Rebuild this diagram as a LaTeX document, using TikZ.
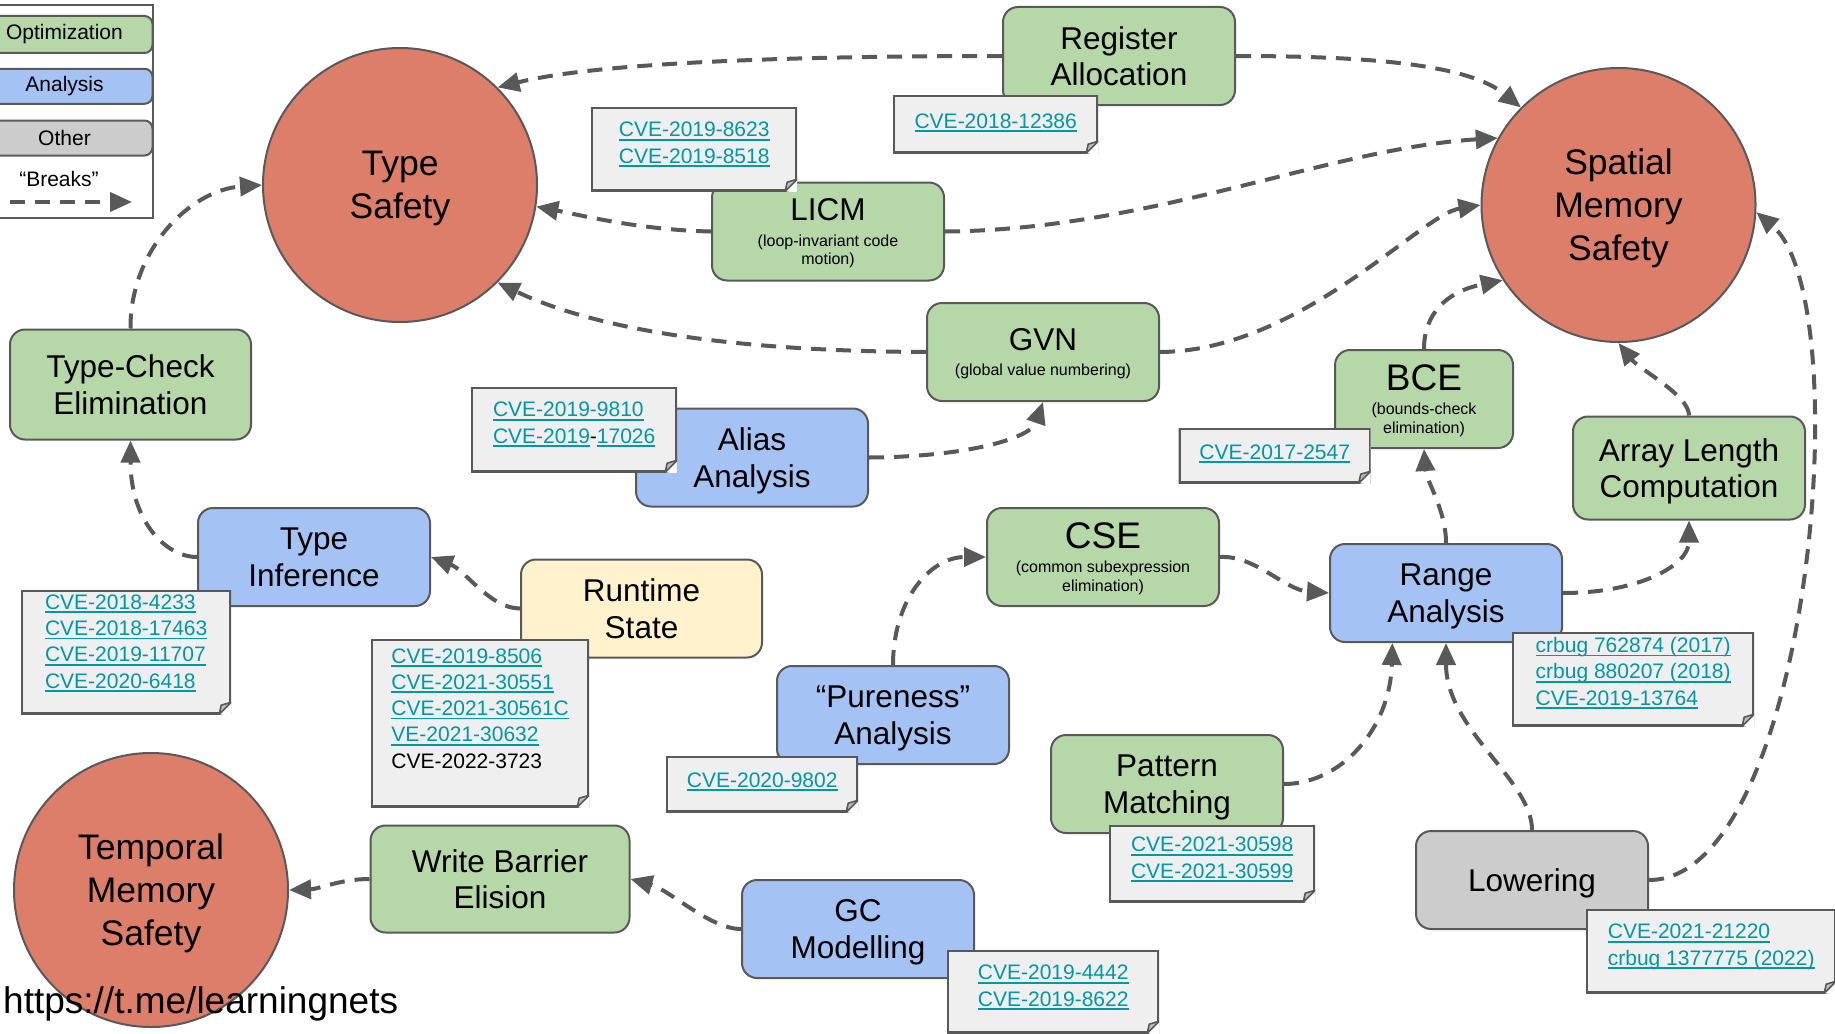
\documentclass[tikz,border=0pt]{standalone}
\usepackage{fontspec}
\setmainfont{Liberation Sans}
\usetikzlibrary{arrows.meta}
\definecolor{optc}{HTML}{B6D7A8}
\definecolor{anac}{HTML}{A4C2F4}
\definecolor{othc}{HTML}{CCCCCC}
\definecolor{rtsc}{HTML}{FFF2CC}
\definecolor{propc}{HTML}{DD7E6B}
\definecolor{notec}{HTML}{EFEFEF}
\definecolor{foldc}{HTML}{BDBDBD}
\definecolor{bordc}{HTML}{595959}
\definecolor{linkc}{HTML}{0097A7}
\newcommand\nodef{\fontsize{31.5pt}{36.5pt}\selectfont}
\newcommand\circf{\fontsize{35.5pt}{43pt}\selectfont}
\newcommand\bcef{\fontsize{37pt}{42pt}\selectfont}
\newcommand\subf{\fontsize{16pt}{18.4pt}\selectfont}
\newcommand\notef{\fontsize{21pt}{26.3pt}\selectfont}
\newcommand\legf{\fontsize{21pt}{25pt}\selectfont}
\newcommand\wmf{\fontsize{37pt}{42pt}\selectfont}
\newcommand\ulk[1]{\setbox0=\hbox{#1}\rlap{\rule[-3.8pt]{\wd0}{1.9pt}}\box0}
\begin{document}
\begin{tikzpicture}[x=1pt,y=-1pt,
  nbox/.style={rectangle, rounded corners=15pt, draw=bordc, line width=2pt,
    minimum width=232pt, minimum height=98pt, align=center, font=\nodef,
    text depth=0pt, inner sep=0pt},
  optbox/.style={nbox, fill=optc},
  anabox/.style={nbox, fill=anac},
  othbox/.style={nbox, fill=othc},
  rtsbox/.style={nbox, fill=rtsc},
  subtext/.style={font=\subf},
  propcirc/.style={circle, draw=bordc, line width=2pt, fill=propc,
    minimum size=274pt, inner sep=0pt, align=center, font=\circf, text depth=0pt},
  brkarrow/.style={draw=bordc, line width=4pt, dash pattern=on 15pt off 10pt,
    -{Triangle[length=22pt,width=19pt]}},
  legbox/.style={rectangle, rounded corners=8pt, draw=bordc, line width=2pt,
    minimum width=176pt, inner sep=0pt, font=\legf},
  cvenote/.style={rectangle, fill=notec, draw=none, inner sep=0pt, anchor=north west,
    align=left, font=\notef, text=linkc,
    path picture={
      \draw[bordc, line width=4pt] (path picture bounding box.south west) rectangle (path picture bounding box.north east);
      \fill[white] ([xshift=-12pt]path picture bounding box.south east) -- ([yshift=12pt]path picture bounding box.south east) -- ([xshift=2pt,yshift=-2pt]path picture bounding box.south east) -- cycle;
      \filldraw[draw=bordc, fill=foldc, line width=1.6pt, line join=round] ([yshift=12pt]path picture bounding box.south east) -- ([xshift=-12pt]path picture bounding box.south east) -- ([xshift=-10pt,yshift=9pt]path picture bounding box.south east) -- cycle;
    }},
]
\path[use as bounding box, fill=white] (0,0) rectangle (1835,1033);
\clip (0,0) rectangle (1835,1033);

% legend
\draw[bordc, line width=2pt] (-5,5) rectangle (152.5,218);
\node[legbox, fill=optc, minimum height=37pt] (LG1) at (64.5,34.5) {Optimization};
\node[legbox, fill=anac, minimum height=35pt] (LG2) at (64.5,86.3) {Analysis};
\node[legbox, fill=othc, minimum height=35pt] (LG3) at (64.5,138) {Other};
\node[font=\legf, inner sep=0pt] (LGB) at (59,179) {“Breaks”};
\coordinate (LA1) at (10,202);
\coordinate (LA2) at (132,202);
\draw[brkarrow] (LA1) -- (LA2);

% properties
\node[propcirc] (TS) at (400,185) {Type\\Safety};
\node[propcirc] (SP) at (1618.5,205) {Spatial\\Memory\\Safety};
\node[propcirc] (TM) at (151,890) {Temporal\\Memory\\Safety};

% passes
\node[optbox] (RA) at (1119,56) {Register\\Allocation};
\node[optbox, subtext] (LICM) at (828,231.5) {\nodef LICM\\[7pt](loop-invariant code\\motion)};
\node[optbox, subtext] (GVN) at (1043,352) {\nodef GVN\\[7pt](global value numbering)};
\node[anabox] (AA) at (752,457.5) {Alias\\Analysis};
\node[optbox, minimum width=241pt, minimum height=110pt] (TCE) at (130.5,384.5) {Type-Check\\Elimination};
\node[optbox, subtext, minimum width=178pt] (BCE) at (1424,399) {\bcef BCE\\[6pt](bounds-check\\elimination)};
\node[optbox, minimum height=103pt] (ALC) at (1689,468) {Array Length\\Computation};
\node[anabox] (TI) at (314,557) {Type\\Inference};
\node[optbox, subtext] (CSE) at (1103,557) {\bcef CSE\\[6pt](common subexpression\\elimination)};
\node[anabox] (RNG) at (1446,593) {Range\\Analysis};
\node[rtsbox, minimum width=241pt] (RS) at (641.5,608.5) {Runtime\\State};
\node[anabox] (PA) at (893,715) {“Pureness”\\Analysis};
\node[optbox] (PM) at (1167,784) {Pattern\\Matching};
\node[othbox] (LOW) at (1532,880) {Lowering};
\node[optbox, minimum width=259pt, minimum height=107pt] (WBE) at (500,879) {Write Barrier\\Elision};
\node[anabox] (GC) at (858,929) {GC\\Modelling};

% "breaks" connectors
\draw[brkarrow] (RA.west) .. controls (800,56) and (600,62) .. (TS.45);
\draw[brkarrow] (RA.east) .. controls (1380,56) and (1470,66) .. (SP.135);
\draw[brkarrow] (LICM.west) .. controls (640,230) and (580,215) .. (TS.-9);
\draw[brkarrow] (LICM.east) .. controls (1150,230) and (1330,148) .. (SP.151);
\draw[brkarrow] (GVN.west) .. controls (700,351) and (580,322) .. (TS.-45);
\draw[brkarrow] (GVN.east) .. controls (1300,351) and (1420,215) .. (SP.180);
\draw[brkarrow] (AA.east) .. controls (960,457) and (1030,440) .. (GVN.south);
\draw[brkarrow] (BCE.north) .. controls (1424,315) and (1445,292) .. (SP.213);
\draw[brkarrow] (ALC.north) .. controls (1689,395) and (1640,370) .. (SP.-90);
\draw[brkarrow] (RNG.north) .. controls (1446,510) and (1426,480) .. (BCE.south);
\draw[brkarrow] (RNG.east) .. controls (1640,593) and (1689,565) .. (ALC.south);
\draw[brkarrow] (CSE.east) .. controls (1255,555) and (1285,590) .. (RNG.west);
\draw[brkarrow] (PA.north) .. controls (893,600) and (930,557) .. (CSE.west);
\draw[brkarrow] (PM.east) .. controls (1340,784) and (1390,730) .. (RNG.-137);
\draw[brkarrow] (LOW.north) .. controls (1532,780) and (1446,730) .. (RNG.south);
\draw[brkarrow] (LOW.east) .. controls (1810,880) and (1860,300) .. (SP.-3);
\draw[brkarrow] (TCE.north) .. controls (130,250) and (190,190) .. (TS.180);
\draw[brkarrow] (TI.west) .. controls (165,557) and (130.5,520) .. (TCE.south);
\draw[brkarrow] (RS.west) .. controls (490,608.5) and (465,570) .. (TI.east);
\draw[brkarrow] (WBE.west) .. controls (340,879) and (320,889) .. (TM.0);
\draw[brkarrow] (GC.west) .. controls (710,929) and (670,890) .. (WBE.east);

% CVE notes
\node[cvenote, minimum width=205pt, text height=33pt, text depth=25pt] (RAN) at (893,95) {\ulk{CVE-2018-12386}};
\node[cvenote, minimum width=206pt, text height=56pt, text depth=28pt] (LICMN) at (591,107) {\ulk{CVE-2019-8623}\\\ulk{CVE-2019-8518}};
\node[cvenote, minimum width=206pt, text height=56pt, text depth=29pt] (AAN) at (471,387) {\ulk{CVE-2019-9810}\\\ulk{CVE-2019}{\color{black}-}\ulk{17026}};
\node[cvenote, minimum width=210pt, text height=98pt, text depth=26pt] (TIN) at (21,590) {\ulk{CVE-2018-4233}\\\ulk{CVE-2018-17463}\\\ulk{CVE-2019-11707}\\\ulk{CVE-2020-6418}};
\node[cvenote, minimum width=218pt, text height=129pt, text depth=39pt] (RSN) at (371,639) {\ulk{CVE-2019-8506}\\\ulk{CVE-2021-30551}\\\ulk{CVE-2021-30561C}\\\ulk{VE-2021-30632}\\{\color{black}CVE-2022-3723}};
\node[cvenote, minimum width=192pt, text height=31pt, text depth=24pt] (BCEN) at (1178.5,428) {\ulk{CVE-2017-2547}};
\node[cvenote, minimum width=242pt, text height=73pt, text depth=21pt] (RNGN) at (1512,632) {\ulk{crbug 762874 (2017)}\\\ulk{crbug 880207 (2018)}\\\ulk{CVE-2019-13764}};
\node[cvenote, minimum width=192pt, text height=31pt, text depth=25pt] (PAN) at (666,756) {\ulk{CVE-2020-9802}};
\node[cvenote, minimum width=206pt, text height=53pt, text depth=24pt] (PMN) at (1109,825) {\ulk{CVE-2021-30598}\\\ulk{CVE-2021-30599}};
\node[cvenote, minimum width=250pt, text height=56pt, text depth=28pt] (LOWN) at (1586,909) {\ulk{CVE-2021-21220}\\\ulk{crbug 1377775 (2022)}};
\node[cvenote, minimum width=212pt, text height=56pt, text depth=27pt] (GCN) at (947,950) {\ulk{CVE-2019-4442}\\\ulk{CVE-2019-8622}};

% watermark
\node[font=\wmf, anchor=base west, inner sep=0pt] (WM) at (3,1013) {https://t.me/learningnets};
\end{tikzpicture}
\end{document}
